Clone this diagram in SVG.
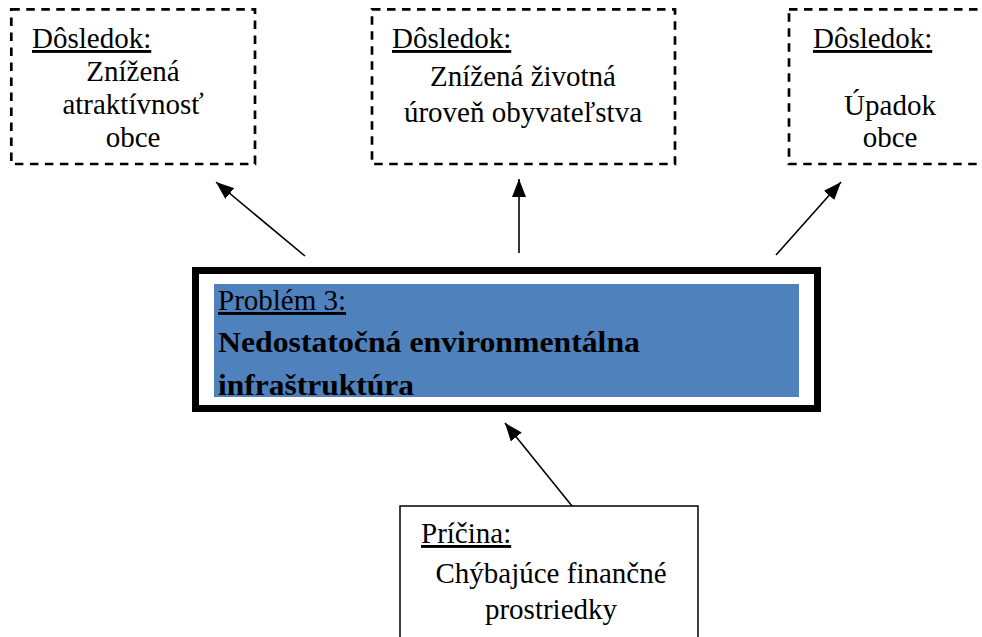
<svg xmlns="http://www.w3.org/2000/svg" width="982" height="637" viewBox="0 0 982 637">
<style>
.t{font-family:"Liberation Serif","Times New Roman",serif;font-size:29px;fill:#000}
.u{text-decoration:underline}
.c{text-anchor:middle}
.b{font-weight:bold;font-size:30px}
.dash{fill:#fff;stroke:#000;stroke-width:2.7;stroke-dasharray:8.5 6.5}
.solid{fill:#fff;stroke:#000;stroke-width:1.5}
.conn{stroke:#000;stroke-width:1.6;fill:none;marker-end:url(#ah)}
</style>
<defs>
<marker id="ah" markerUnits="userSpaceOnUse" markerWidth="20" markerHeight="16" refX="18" refY="7" orient="auto">
<path d="M0,0 L18,7 L0,14 Z" fill="#000"/>
</marker>
</defs>
<rect width="982" height="637" fill="#fff"/>
<g id="dosledok1">
<rect class="dash" x="11.3" y="9.3" width="243.7" height="154.7"/>
<text class="t u" x="32" y="48">Dôsledok:</text>
<text class="t c" x="133" y="81">Znížená</text>
<text class="t c" x="133" y="114">atraktívnosť</text>
<text class="t c" x="133" y="147">obce</text>
</g>
<g id="dosledok2">
<rect class="dash" x="372" y="9.3" width="303" height="154.7"/>
<text class="t u" x="392" y="48">Dôsledok:</text>
<text class="t c" x="523" y="86">Znížená životná</text>
<text class="t c" x="523" y="122">úroveň obyvateľstva</text>
</g>
<g id="dosledok3">
<rect class="dash" x="789" y="9.3" width="204" height="154.7"/>
<text class="t u" x="813" y="48">Dôsledok:</text>
<text class="t c" x="890" y="115">Úpadok</text>
<text class="t c" x="890" y="147">obce</text>
</g>
<g id="problem">
<rect x="195.5" y="270.5" width="622" height="138" fill="#fff" stroke="#000" stroke-width="7"/>
<rect x="214" y="284" width="585" height="113" fill="#4F81BD"/>
<text class="t u" x="218" y="310">Problém 3:</text>
<text class="t b" x="218" y="352" textLength="422" lengthAdjust="spacingAndGlyphs">Nedostatočná environmentálna</text>
<text class="t b" x="218" y="395" textLength="196" lengthAdjust="spacingAndGlyphs">infraštruktúra</text>
</g>
<g id="pricina">
<rect class="solid" x="400" y="506" width="298" height="150"/>
<text class="t u" x="421" y="543">Príčina:</text>
<text class="t c" x="551" y="583">Chýbajúce finančné</text>
<text class="t c" x="551" y="619">prostriedky</text>
</g>
<g id="connectors">
<line class="conn" x1="305" y1="256" x2="216" y2="182"/>
<line class="conn" x1="519" y1="253" x2="519" y2="179"/>
<line class="conn" x1="776" y1="255" x2="841" y2="182"/>
<line class="conn" x1="572" y1="506" x2="505" y2="423"/>
</g>
</svg>
